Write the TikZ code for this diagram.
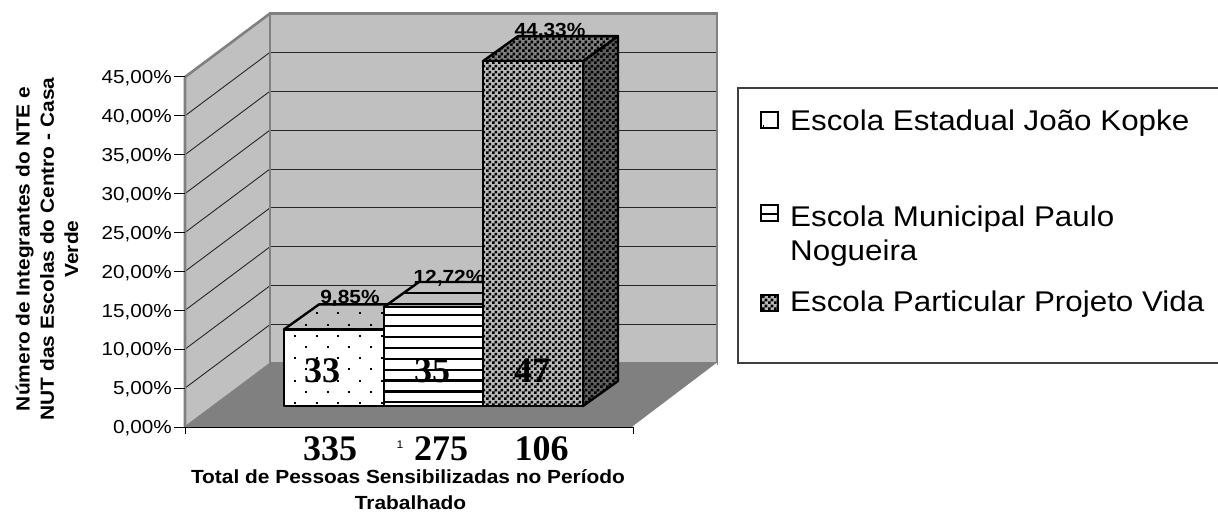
\documentclass[tikz,border=0pt]{standalone}
\usepackage{fontspec}
\setmainfont{Liberation Serif}
\newfontfamily\arialf[FakeStretch=1.1]{Liberation Sans}
\usetikzlibrary{patterns}
\pgfdeclarepatternformonly{finecheck}{\pgfpointorigin}{\pgfqpoint{6pt}{6pt}}{\pgfqpoint{6pt}{6pt}}{%
  \pgfpathrectangle{\pgfpointorigin}{\pgfqpoint{3pt}{3pt}}%
  \pgfpathrectangle{\pgfqpoint{3pt}{3pt}}{\pgfqpoint{3pt}{3pt}}%
  \pgfusepath{fill}}
\definecolor{wallgray}{HTML}{C0C0C0}
\definecolor{floorgray}{HTML}{808080}
\definecolor{edgegray}{HTML}{808080}
\definecolor{checkbase}{HTML}{B8B8B8}
\definecolor{checkside}{HTML}{606060}
\tikzset{
  wallfill/.style={fill=wallgray},
  walledge/.style={draw=edgegray, line width=2.6pt, line join=miter},
  gridl/.style={draw=black!85, line width=0.9pt},
  barline/.style={draw=black, line width=2.4pt, line join=round},
  ticklbl/.style={anchor=base east, font=\arialf\fontsize{18.8}{22}\selectfont, inner sep=0pt},
  pctlbl/.style={anchor=base, font=\arialf\bfseries\fontsize{19}{22}\selectfont, inner sep=0pt},
  titlelbl/.style={anchor=base, font=\arialf\bfseries\fontsize{19}{24.2}\selectfont, inner sep=0pt},
  barnum/.style={anchor=base, font=\bfseries\fontsize{36}{40}\selectfont, inner sep=0pt},
  legtxt/.style={anchor=base west, font=\arialf\fontsize{28.5}{34}\selectfont, inner sep=0pt},
  legsq/.style={draw=black, line width=1.5pt},
  checker/.style={pattern=finecheck, pattern color=black},
}
\newcommand\dotfield{%
  \foreach \r in {0,...,12}{\foreach \c in {-2,...,6}{%
    \fill[black] ({316.7+21.7*\c+10.85*mod(\r,2)-1},{290.9+11.2*\r-1}) rectangle +(2,2);}}}
\newcommand\linefield{%
  \foreach \k in {0,...,11}{\fill[black] (370,{292.2+10.9*\k}) rectangle (540,{294.4+10.9*\k});}}
\begin{document}
\begin{tikzpicture}[x=1pt,y=-1pt]
\useasboundingbox (0,0) rectangle (1218,514);
% frame coordinates
\coordinate (FL) at (185,427);
\coordinate (FR) at (633,427);
\coordinate (BL) at (270,363.5);
\coordinate (BR) at (717,363.5);
\coordinate (FT) at (185,77);
\coordinate (BT) at (270,13.5);
\coordinate (BTR) at (717,13.5);
% floor
\fill[floorgray] (FL) -- (FR) -- (BR) -- (BL) -- cycle;
% walls
\fill[wallfill] (BL) rectangle (BTR);
\fill[wallfill] (FL) -- (BL) -- (BT) -- (FT) -- cycle;
% gridlines
\foreach \k in {1,...,8}{
  \draw[gridl] (270,{363.5-38.9*\k}) -- (717,{363.5-38.9*\k});
  \draw[gridl] (185,{427-38.9*\k}) -- (270,{363.5-38.9*\k});
}
% wall edges
\draw[walledge] (BL) -- (BT) -- (BTR) -- (BR) -- cycle;
\draw[walledge] (FL) -- (FT) -- (BT);
\draw[walledge, line width=1.5pt] (FL) -- (BL);
\draw[white, line width=1.3pt] (FR) -- (BR);
% axes
\draw[black, line width=1pt] (FL) -- (FR);
\draw[black, line width=1pt] (FL) -- ++(0,7);
\draw[black, line width=1pt] (FR) -- ++(0,7);
\foreach \k in {0,...,9}{
  \draw[black, line width=1pt] (174,{427-38.9*\k}) -- (185,{427-38.9*\k});
  \pgfmathtruncatemacro\v{5*\k}
  \node[ticklbl] (t\k) at (172,{433.7-38.9*\k}) {\v,00\%};
}
% ---- bar 1
\path[fill=wallgray] (284,329.4) -- (384,329.4) -- (419,304.4) -- (319,304.4) -- cycle;
\begin{scope}
\clip (284,329.4) -- (384,329.4) -- (419,304.4) -- (319,304.4) -- cycle;
\dotfield
\end{scope}
\draw[barline] (284,329.4) -- (384,329.4) -- (419,304.4) -- (319,304.4) -- cycle;
\fill[white] (284,406) rectangle (384,329.4);
\begin{scope}
\clip (284,406) rectangle (384,329.4);
\dotfield
\end{scope}
\draw[barline] (284,406) rectangle (384,329.4);
\node[pctlbl] (p1) at (350,303) {9,85\%};
% ---- bar 2
\path[fill=wallgray] (384,307) -- (483,307) -- (518,282) -- (419,282) -- cycle;
\begin{scope}
\clip (384,307) -- (483,307) -- (518,282) -- (419,282) -- cycle;
\linefield
\end{scope}
\draw[barline] (384,307) -- (483,307) -- (518,282) -- (419,282) -- cycle;
\fill[white] (384,406) rectangle (483,307);
\begin{scope}
\clip (384,406) rectangle (483,307);
\linefield
\end{scope}
\draw[barline] (384,406) rectangle (483,307);
\node[pctlbl] (p2) at (449,283) {12,72\%};
% ---- bar 3
\path[fill=checkside] (583,406) -- (618,381) -- (618,36.1) -- (583,61.1) -- cycle;
\path[checker] (583,406) -- (618,381) -- (618,36.1) -- (583,61.1) -- cycle;
\draw[barline] (583,406) -- (618,381) -- (618,36.1) -- (583,61.1) -- cycle;
\path[fill=floorgray] (483,61.1) -- (583,61.1) -- (618,36.1) -- (518,36.1) -- cycle;
\path[checker] (483,61.1) -- (583,61.1) -- (618,36.1) -- (518,36.1) -- cycle;
\draw[barline] (483,61.1) -- (583,61.1) -- (618,36.1) -- (518,36.1) -- cycle;
\fill[checkbase] (483,406) rectangle (583,61.1);
\path[checker] (483,406) rectangle (583,61.1);
\draw[barline] (483,406) rectangle (583,61.1);
\node[pctlbl] (p3) at (550,36.5) {44,33\%};
% numbers in bars
\node[barnum] (n1) at (322,382) {33};
\node[barnum] (n2) at (432,382) {35};
\node[barnum] (n3) at (532,382) {47};
% numbers below
\node[barnum] (m1) at (330,460) {335};
\node[barnum] (m2) at (441,460) {275};
\node[barnum] (m3) at (541.5,460) {106};
\node[anchor=base, font=\arialf\fontsize{11}{12}\selectfont, inner sep=0pt] (cat) at (400,448) {1};
% axis titles
\node[titlelbl] (xt1) at (408,483) {Total de Pessoas Sensibilizadas no Período};
\node[titlelbl] (xt2) at (410.5,509) {Trabalhado};
\node[rotate=90, align=center, font=\arialf\bfseries\fontsize{19}{24.2}\selectfont, inner sep=0pt] (yt) at (47,249)
  {Número de Integrantes do NTE e\\NUT das Escolas do Centro - Casa\\Verde};
% legend
\draw[draw=black!75, line width=1.3pt] (738,88) rectangle (1235,363);
\draw[legsq, fill=white] (761,112) rectangle (778,128);
\fill[black] (762.5,125) rectangle +(1.5,1.5);
\node[legtxt] (l1) at (790,130) {Escola Estadual João Kopke};
\draw[legsq, fill=white] (761,205) rectangle (778,221);
\draw[black, line width=1.5pt] (761,214) -- (778,214);
\node[legtxt] (l2a) at (790,226) {Escola Municipal Paulo};
\node[legtxt] (l2b) at (790,260) {Nogueira};
\fill[checkbase] (761,295) rectangle (778,311);
\path[checker] (761,295) rectangle (778,311);
\draw[legsq] (761,295) rectangle (778,311);
\node[legtxt] (l3) at (790,311.5) {Escola Particular Projeto Vida};
\end{tikzpicture}
\end{document}
